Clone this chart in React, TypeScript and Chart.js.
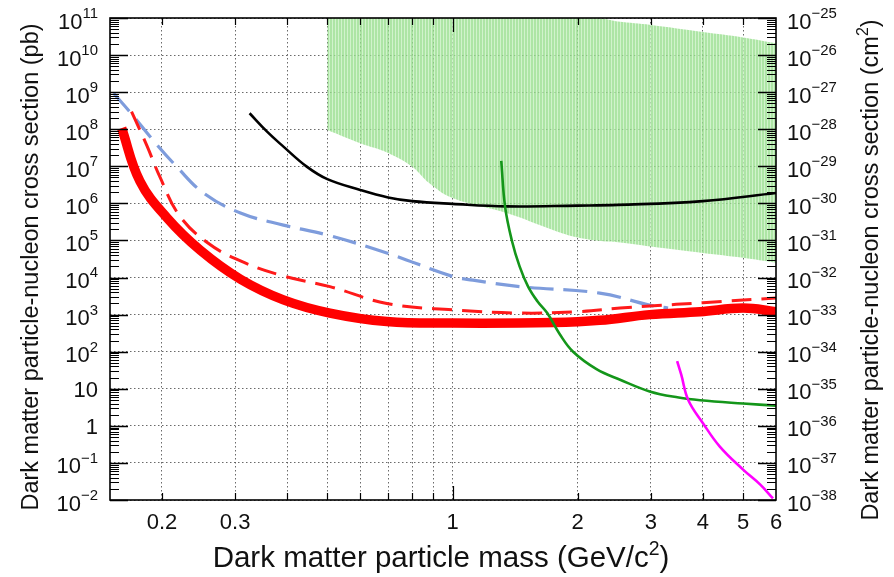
import React, { useEffect, useRef } from "react";
import { Chart, registerables } from "chart.js";

Chart.register(...registerables);

// ---------------- data ----------------
// Green excluded region (upper and lower boundary on common masses)
const bandMass = [0.5, 0.6, 0.7, 0.8, 0.88, 1.0, 1.35, 1.75, 2.0, 2.3, 2.5, 3.0, 4.0, 5.0, 6.0];
const bandUpper = [1e11, 1e11, 1e11, 1e11, 1e11, 1e11, 1e11, 1e11, 1e11, 9.5e10, 8e10, 6.5e10, 4.2e10, 3e10, 2.1e10];
const bandLower = [9.6e7, 4.2e7, 2.3e7, 9.8e6, 3.5e6, 1.4e6, 5.5e5, 1.9e5, 1.2e5, 9.5e4, 9e4, 6.9e4, 4.6e4, 3.4e4, 2.5e4];

// Black solid
const blackMass = [0.325, 0.358, 0.392, 0.446, 0.5, 0.6, 0.7, 0.8, 1.0, 1.35, 2.0, 2.5, 4.0, 6.0];
const blackXsec = [2.7e8, 8.6e7, 3.4e7, 9.8e6, 4.5e6, 2.3e6, 1.45e6, 1.15e6, 9.7e5, 8.3e5, 8.7e5, 9.1e5, 1.15e6, 1.9e6];

// Green solid
const greenMass = [1.31, 1.338, 1.389, 1.45, 1.52, 1.6, 1.69, 1.81, 1.95, 2.22, 2.53, 2.98, 3.5, 3.94, 5.0, 6.0];
const greenXsec = [1.4e7, 8.2e5, 1.0e5, 2.0e4, 5.7e3, 2.3e3, 1.1e3, 300, 100, 34, 17.5, 8.5, 5.8, 4.9, 4.0, 3.5];

// Magenta solid
const magentaMass = [3.47, 3.55, 3.69, 4.0, 4.39, 5.0, 5.5, 5.9];
const magentaXsec = [56, 24, 5, 1.2, 0.28, 0.066, 0.026, 0.011];

// Blue dashed
const blueMass = [0.153, 0.17, 0.19, 0.217, 0.252, 0.309, 0.392, 0.5, 0.695, 1.0, 1.12, 1.45, 2.26, 2.98, 3.3];
const blueXsec = [9.3e8, 2.4e8, 5.2e7, 9.8e6, 1.9e6, 5.5e5, 2.6e5, 1.4e5, 4.6e4, 1.07e4, 8.5e3, 5.7e3, 3.8e3, 1.8e3, 1.5e3];

// Red dashed
const redDashMass = [0.169, 0.184, 0.198, 0.22, 0.257, 0.309, 0.392, 0.507, 0.695, 1.0, 1.45, 2.0, 2.53, 2.98, 4.0, 6.0];
const redDashXsec = [3e8, 3.6e7, 5.0e6, 4.8e5, 8.8e4, 2.8e4, 1.1e4, 5.7e3, 2.0e3, 1.35e3, 1.1e3, 1.2e3, 1.5e3, 1.7e3, 2.1e3, 2.8e3];

// Red thick solid
const redMass = [0.16, 0.177, 0.206, 0.248, 0.309, 0.392, 0.507, 0.695, 1.0, 1.75, 2.26, 2.98, 3.94, 5.0, 6.0];
const redXsec = [1.07e8, 4.0e6, 4.0e5, 5.3e4, 9e3, 2.5e3, 1.1e3, 650, 590, 610, 700, 1000, 1200, 1500, 1200];

// axes
const xGridValues = [0.2, 0.3, 0.4, 0.5, 0.6, 0.7, 0.8, 0.9, 1, 2, 3, 4, 5];
const xTickLabels = [0.2, 0.3, 1, 2, 3, 4, 5, 6];
const yDecadesPb = [-2, -1, 0, 1, 2, 3, 4, 5, 6, 7, 8, 9, 10, 11];
const yDecadesCm2 = [-38, -37, -36, -35, -34, -33, -32, -31, -30, -29, -28, -27, -26, -25];

const xTitle = "Dark matter particle mass (GeV/c";
const yTitleLeft = "Dark matter particle-nucleon cross section (pb)";
const yTitleRight = "Dark matter particle-nucleon cross section (cm";

const FONT = '"Liberation Sans", Arial, Helvetica, sans-serif';

type Seg = { t: string; sup?: boolean };

function pts(xs: number[], ys: number[]) {
  return xs.map((x, i) => ({ x, y: ys[i] }));
}

function expStr(d: number) {
  return d < 0 ? "\u2212" + String(-d) : String(d);
}

function drawRich(
  ctx: CanvasRenderingContext2D,
  segs: Seg[],
  x: number,
  y: number,
  align: "left" | "right" | "center",
  size: number,
  supScale = 0.68,
  supRaise = 0.48
) {
  const supSize = size * supScale;
  const widths = segs.map((s) => {
    ctx.font = `${s.sup ? supSize : size}px ${FONT}`;
    return ctx.measureText(s.t).width;
  });
  const total = widths.reduce((a, b) => a + b, 0);
  let cx = align === "left" ? x : align === "right" ? x - total : x - total / 2;
  ctx.textAlign = "left";
  ctx.textBaseline = "alphabetic";
  segs.forEach((s, i) => {
    ctx.font = `${s.sup ? supSize : size}px ${FONT}`;
    ctx.fillText(s.t, cx, s.sup ? y - size * supRaise : y);
    cx += widths[i];
  });
}

const framePlugin = {
  id: "frameAndLabels",
  afterDraw(chart: any) {
    const ctx: CanvasRenderingContext2D = chart.ctx;
    const { left, right, top, bottom } = chart.chartArea;
    const xs = chart.scales.x;
    const ys = chart.scales.y;
    const ys2 = chart.scales.y2;
    ctx.save();
    ctx.strokeStyle = "#000";
    ctx.fillStyle = "#111";

    // y ticks (inward, left and right)
    for (let d = -2; d <= 11; d++) {
      const yp = Math.round(ys.getPixelForValue(Math.pow(10, d))) + 0.5;
      ctx.lineWidth = 1.5;
      ctx.beginPath();
      ctx.moveTo(left, yp);
      ctx.lineTo(left + 18, yp);
      ctx.moveTo(right, yp);
      ctx.lineTo(right - 18, yp);
      ctx.stroke();
      if (d < 11) {
        ctx.lineWidth = 1;
        for (let m = 2; m <= 9; m++) {
          const ym = Math.round(ys.getPixelForValue(m * Math.pow(10, d))) + 0.5;
          ctx.beginPath();
          ctx.moveTo(left, ym);
          ctx.lineTo(left + 9, ym);
          ctx.moveTo(right, ym);
          ctx.lineTo(right - 9, ym);
          ctx.stroke();
        }
      }
    }
    // x ticks (inward, bottom and top)
    ctx.lineWidth = 1.2;
    xGridValues.forEach((v) => {
      const xp = Math.round(xs.getPixelForValue(v)) + 0.5;
      const len = v === 1 ? 14 : 7;
      ctx.beginPath();
      ctx.moveTo(xp, bottom);
      ctx.lineTo(xp, bottom - len);
      ctx.moveTo(xp, top);
      ctx.lineTo(xp, top + len);
      ctx.stroke();
    });

    // frame
    ctx.lineWidth = 1.6;
    ctx.strokeRect(left, top, right - left, bottom - top);

    // left tick labels
    const fs = 22;
    yDecadesPb.forEach((d) => {
      const yp = ys.getPixelForValue(Math.pow(10, d));
      if (d === 0) drawRich(ctx, [{ t: "1" }], 98, yp + 8, "right", fs);
      else if (d === 1) drawRich(ctx, [{ t: "10" }], 98, yp + 8, "right", fs);
      else drawRich(ctx, [{ t: "10" }, { t: expStr(d), sup: true }], 98, yp + 10.5, "right", fs);
    });
    // right tick labels
    yDecadesCm2.forEach((d) => {
      const yp = ys2.getPixelForValue(Math.pow(10, d));
      drawRich(ctx, [{ t: "10" }, { t: expStr(d), sup: true }], 787, yp + 10.5, "left", fs);
    });
    // x tick labels
    xTickLabels.forEach((v) => {
      const xp = xs.getPixelForValue(v);
      drawRich(ctx, [{ t: String(v) }], xp, 529, "center", fs);
    });

    // x title
    drawRich(ctx, [{ t: xTitle }, { t: "2", sup: true }, { t: ")" }], (left + right) / 2 - 2, 567, "center", 29.5, 0.66, 0.42);

    // left title (rotated)
    ctx.save();
    ctx.translate(38, (top + bottom) / 2 + 8);
    ctx.rotate(-Math.PI / 2);
    drawRich(ctx, [{ t: yTitleLeft }], 0, 0, "center", 23.5);
    ctx.restore();

    // right title (rotated)
    ctx.save();
    ctx.translate(878, (top + bottom) / 2 + 11);
    ctx.rotate(-Math.PI / 2);
    drawRich(ctx, [{ t: yTitleRight }, { t: "2", sup: true }, { t: ")" }], 0, 0, "center", 23.5, 0.68, 0.42);
    ctx.restore();

    ctx.restore();
  },
};

export default function App() {
  const ref = useRef<HTMLCanvasElement | null>(null);

  useEffect(() => {
    const canvas = ref.current;
    if (!canvas) return;

    // striped light-green pattern for the excluded region
    const off = document.createElement("canvas");
    off.width = 3;
    off.height = 4;
    const octx = off.getContext("2d")!;
    octx.fillStyle = "rgba(150,222,140,0.78)";
    octx.fillRect(0, 0, 2, 4);
    octx.fillStyle = "rgba(196,240,190,0.78)";
    octx.fillRect(2, 0, 1, 4);
    const pattern = canvas.getContext("2d")!.createPattern(off, "repeat");

    const lineBase = {
      pointRadius: 0,
      fill: false,
      tension: 0.4,
      borderCapStyle: "butt" as const,
    };

    const chart = new Chart(canvas, {
      type: "line",
      data: {
        datasets: [
          {
            ...lineBase,
            label: "band upper",
            data: pts(bandMass, bandUpper),
            borderWidth: 0,
            borderColor: "rgba(0,0,0,0)",
            backgroundColor: pattern as any,
            fill: 1,
            order: 20,
          },
          {
            ...lineBase,
            label: "band lower",
            data: pts(bandMass, bandLower),
            borderWidth: 0,
            borderColor: "rgba(0,0,0,0)",
            order: 21,
          },
          {
            ...lineBase,
            label: "black",
            data: pts(blackMass, blackXsec),
            borderColor: "#000000",
            borderWidth: 2.6,
            order: 5,
          },
          {
            ...lineBase,
            label: "blue dashed",
            data: pts(blueMass, blueXsec),
            borderColor: "rgb(126,156,220)",
            borderWidth: 3.2,
            borderDash: [24, 10],
            order: 4,
          },
          {
            ...lineBase,
            label: "red dashed",
            data: pts(redDashMass, redDashXsec),
            borderColor: "#ff1a1a",
            borderWidth: 3,
            borderDash: [20, 10],
            order: 3,
          },
          {
            ...lineBase,
            label: "red thick",
            data: pts(redMass, redXsec),
            borderColor: "#ff0000",
            borderWidth: 9.5,
            order: 2,
          },
          {
            ...lineBase,
            label: "green",
            data: pts(greenMass, greenXsec),
            borderColor: "#14961a",
            borderWidth: 2.6,
            order: 1,
          },
          {
            ...lineBase,
            label: "magenta",
            data: pts(magentaMass, magentaXsec),
            borderColor: "#ff00ff",
            borderWidth: 2.6,
            order: 0,
          },
        ],
      },
      options: {
        responsive: false,
        animation: false,
        devicePixelRatio: 1,
        layout: { padding: { left: 110, right: 118, top: 18, bottom: 77 } },
        plugins: {
          legend: { display: false },
          tooltip: { enabled: false },
        },
        scales: {
          x: {
            type: "logarithmic",
            min: 0.15,
            max: 6,
            position: "bottom",
            afterBuildTicks: (s: any) => {
              s.ticks = xGridValues.map((v) => ({ value: v }));
            },
            afterFit: (s: any) => {
              s.height = 0;
            },
            ticks: { display: false },
            grid: { color: "rgba(80,80,80,0.85)", lineWidth: 1, drawTicks: false, tickLength: 0 },
            border: { display: false, dash: [1.5, 2.5] },
          },
          y: {
            type: "logarithmic",
            min: 1e-2,
            max: 1e11,
            position: "left",
            afterBuildTicks: (s: any) => {
              s.ticks = yDecadesPb.map((d) => ({ value: Math.pow(10, d) }));
            },
            afterFit: (s: any) => {
              s.width = 0;
            },
            ticks: { display: false },
            grid: { color: "rgba(80,80,80,0.85)", lineWidth: 1, drawTicks: false, tickLength: 0 },
            border: { display: false, dash: [1.5, 2.5] },
          },
          y2: {
            type: "logarithmic",
            min: 1e-38,
            max: 1e-25,
            position: "right",
            afterFit: (s: any) => {
              s.width = 0;
            },
            ticks: { display: false },
            grid: { display: false, drawTicks: false },
            border: { display: false },
          },
        },
      } as any,
      plugins: [framePlugin],
    });

    return () => {
      chart.destroy();
    };
  }, []);

  return (
    <div style={{ position: "absolute", left: 0, top: 0, width: 894, height: 577, background: "#fff" }}>
      <canvas ref={ref} width={894} height={577} style={{ width: 894, height: 577, display: "block" }} />
    </div>
  );
}
